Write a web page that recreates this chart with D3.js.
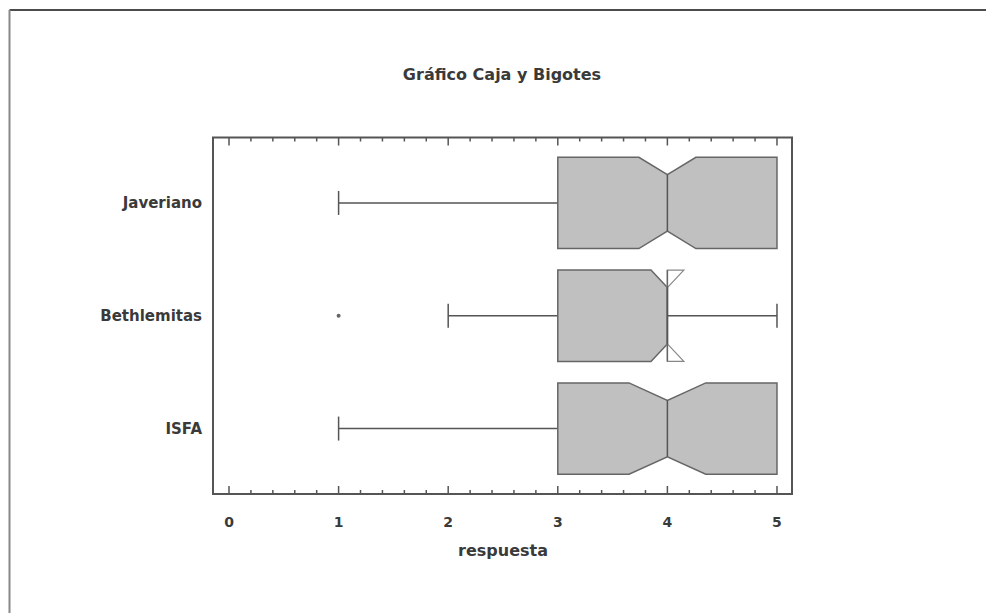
<!DOCTYPE html>
<html>
<head>
<meta charset="utf-8">
<script src="https://cdn.jsdelivr.net/npm/d3@7"></script>
<style>
  body { margin: 0; background: #fff; }
  text { font-family: "DejaVu Sans", Verdana, sans-serif; font-weight: bold; fill: #3a3a3a; }
</style>
</head>
<body>
<script>
// box plot data per group
var categories = ["Javeriano", "Bethlemitas", "ISFA"];
var mins     = [1, 2, 1];
var q1s      = [3, 3, 3];
var medians  = [4, 4, 4];
var q3s      = [5, 4, 5];
var maxs     = [5, 5, 5];
var notchLo  = [3.74, 3.85, 3.65];
var notchHi  = [4.26, 4.15, 4.35];
var outliers = [[], [1], []];
var xTicks   = [0, 1, 2, 3, 4, 5];

var svg = d3.select("body").append("svg")
  .attr("width", 986)
  .attr("height", 613);

// page frame
svg.append("line").attr("x1", 9.5).attr("y1", 10).attr("x2", 986).attr("y2", 10)
  .style("stroke", "#111").style("stroke-width", 1.5);
svg.append("line").attr("x1", 9.5).attr("y1", 10).attr("x2", 9.5).attr("y2", 613)
  .style("stroke", "#888").style("stroke-width", 2);

var pLeft = 213, pRight = 792, pTop = 137.5, pBottom = 494;

var x = d3.scaleLinear().domain([-0.146, 5.137]).range([pLeft, pRight]);
var y = d3.scalePoint().domain(categories).range([pTop, pBottom]).padding(0.58);
var step = y.step();

var boxH = step * 0.405, notchH = step * 0.25, capH = 12;

// title
svg.append("text")
  .attr("x", 502).attr("y", 80)
  .style("text-anchor", "middle")
  .style("font-size", "16px")
  .text("Gráfico Caja y Bigotes");

// ticks (inward on top and bottom)
var minor = d3.range(0, 5.0001, 0.2);
minor.forEach(function(v) {
  var major = Math.abs(v - Math.round(v)) < 1e-6;
  var len = major ? 8 : 4;
  svg.append("line").attr("x1", x(v)).attr("x2", x(v)).attr("y1", pTop).attr("y2", pTop + len)
    .style("stroke", "#555").style("stroke-width", 1.5);
  svg.append("line").attr("x1", x(v)).attr("x2", x(v)).attr("y1", pBottom).attr("y2", pBottom - len)
    .style("stroke", "#555").style("stroke-width", 1.5);
});

xTicks.forEach(function(v) {
  svg.append("text")
    .attr("x", x(v)).attr("y", 527)
    .style("text-anchor", "middle")
    .style("font-size", "14px")
    .text(v);
});

svg.append("text")
  .attr("x", 503).attr("y", 556)
  .style("text-anchor", "middle")
  .style("font-size", "16px")
  .text("respuesta");

categories.forEach(function(c, i) {
  var cy = y(c);
  svg.append("text")
    .attr("x", 202).attr("y", cy + 5.5)
    .style("text-anchor", "end")
    .style("font-size", "15px")
    .text(c);

  // whiskers
  var ws = [[mins[i], q1s[i]], [q3s[i], maxs[i]]];
  ws.forEach(function(w) {
    if (w[0] == w[1]) return;
    svg.append("line").attr("x1", x(w[0])).attr("x2", x(w[1])).attr("y1", cy).attr("y2", cy)
      .style("stroke", "#555").style("stroke-width", 1.5);
  });
  [mins[i], maxs[i]].forEach(function(v, k) {
    if ((k == 0 && v == q1s[i]) || (k == 1 && v == q3s[i])) return;
    svg.append("line").attr("x1", x(v)).attr("x2", x(v)).attr("y1", cy - capH).attr("y2", cy + capH)
      .style("stroke", "#555").style("stroke-width", 1.5);
  });

  // notched box
  var t = cy - boxH, b = cy + boxH;
  var xq1 = x(q1s[i]), xq3 = x(q3s[i]), xm = x(medians[i]);
  var xnl = x(notchLo[i]), xnh = x(notchHi[i]);
  var pts = [[xq1, t], [xnl, t], [xm, cy - notchH]];
  if (xnh <= xq3) {
    pts.push([xnh, t], [xq3, t], [xq3, b], [xnh, b]);
  }
  pts.push([xm, cy + notchH], [xnl, b], [xq1, b]);

  svg.append("polygon")
    .attr("points", pts.map(function(p) { return p.join(","); }).join(" "))
    .attr("fill", "#c0c0c0")
    .style("stroke", "#666").style("stroke-width", 1.5);

  // flaps when the notch goes past the quartile
  if (xnh > xq3) {
    [[cy - notchH, t], [cy + notchH, b]].forEach(function(f) {
      svg.append("polygon")
        .attr("points", [[xq3, f[0]], [xnh, f[1]], [xq3, f[1]]].map(function(p) { return p.join(","); }).join(" "))
        .attr("fill", "#fff")
        .style("stroke", "#888").style("stroke-width", 1.2);
    });
    svg.append("line").attr("x1", xq3).attr("x2", xq3).attr("y1", t).attr("y2", b)
      .style("stroke", "#666").style("stroke-width", 1.5);
  }

  svg.append("line").attr("x1", xm).attr("x2", xm).attr("y1", cy - notchH).attr("y2", cy + notchH)
    .style("stroke", "#555").style("stroke-width", 1.5);

  outliers[i].forEach(function(v) {
    svg.append("circle").attr("cx", x(v)).attr("cy", cy).attr("r", 2)
      .attr("fill", "#666");
  });
});

// plot frame
svg.append("rect")
  .attr("x", pLeft).attr("y", pTop)
  .attr("width", pRight - pLeft).attr("height", pBottom - pTop)
  .attr("fill", "none")
  .style("stroke", "#555").style("stroke-width", 2);
</script>
</body>
</html>
